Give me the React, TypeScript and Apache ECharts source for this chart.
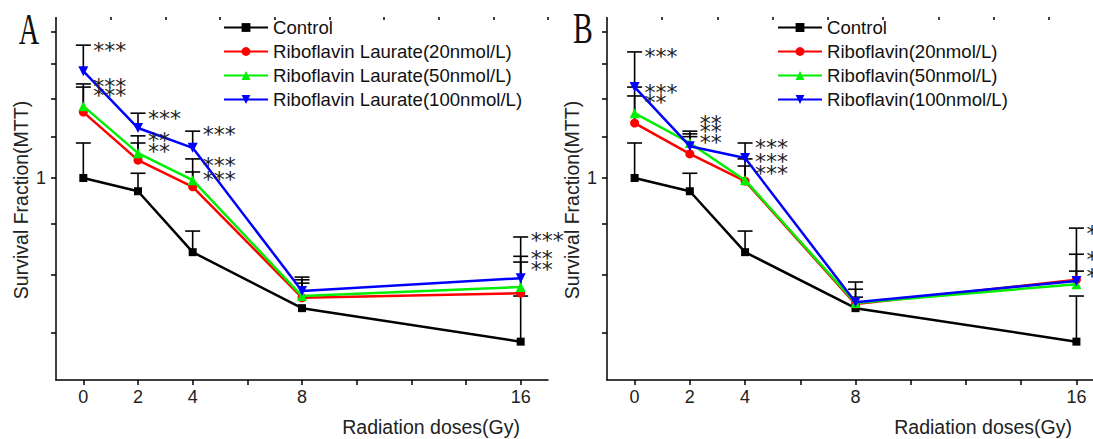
import React, { useEffect, useRef } from "react";
import * as echarts from "echarts";

// ---------- data ----------
const doses = [0, 2, 4, 8, 16];
const xLabelValues = [0, 2, 4, 8, 16];
const xMajorTicks = [0, 2, 4, 6, 8, 10, 12, 14, 16];
const xMinorTicks = [-1, 1, 3, 5, 7, 9, 11, 13, 15, 17];
const yTickValues = [0.7, 0.8, 0.9, 1.0, 1.1, 1.2, 1.3, 1.4];
const yLabelValues = [1];

const namesA = ["Control", "Riboflavin Laurate(20nmol/L)", "Riboflavin Laurate(50nmol/L)", "Riboflavin Laurate(100nmol/L)"];
const namesB = ["Control", "Riboflavin(20nmol/L)", "Riboflavin(50nmol/L)", "Riboflavin(100nmol/L)"];

// Panel A: means and upper error limits (null = no visible bar)
const controlA = [1.0, 0.97, 0.843, 0.741, 0.686];
const rl20A = [1.164, 1.042, 0.98, 0.759, 0.767];
const rl50A = [1.18, 1.059, 0.995, 0.762, 0.778];
const rl100A = [1.279, 1.122, 1.072, 0.771, 0.794];
const controlTopA = [1.084, 1.011, 0.885, null, 0.762];
const rl20TopA = [1.233, 1.084, 1.014, 0.785, 0.824];
const rl50TopA = [1.242, 1.102, 1.045, 0.791, 0.835];
const rl100TopA = [1.358, 1.161, 1.114, 0.796, 0.873];

// Panel B
const controlB = [1.0, 0.97, 0.843, 0.741, 0.686];
const r20B = [1.135, 1.057, 0.993, 0.748, 0.791];
const r50B = [1.161, 1.084, 0.995, 0.75, 0.783];
const r100B = [1.233, 1.076, 1.047, 0.751, 0.789];
const controlTopB = [1.084, 1.011, 0.885, null, 0.762];
const r20TopB = [1.208, 1.1, 1.028, 0.76, 0.807];
const r50TopB = [1.233, 1.107, 1.045, 0.774, 0.839];
const r100TopB = [1.337, 1.114, 1.084, 0.787, 0.891];

// significance marks
const starXA = [0, 0, 0, 2, 2, 2, 4, 4, 4, 16, 16, 16];
const starYA = [1.358, 1.25, 1.222, 1.161, 1.104, 1.076, 1.117, 1.042, 1.009, 0.875, 0.841, 0.82];
const starTextA = ["***", "***", "***", "***", "**", "**", "***", "***", "***", "***", "**", "**"];
const starXB = [0, 0, 0, 2, 2, 2, 4, 4, 4, 16, 16, 16];
const starYB = [1.337, 1.233, 1.205, 1.148, 1.125, 1.099, 1.084, 1.05, 1.023, 0.891, 0.839, 0.807];
const starTextB = ["***", "***", "**", "**", "**", "**", "***", "***", "***", "*", "*", "*"];

const colors = ["#000000", "#ff0000", "#00ee00", "#0000ff"];
const symbols = ["rect", "circle", "triangle", "triangle"];
const symbolSizes = [8, 9, 10, 10];
const symbolRotates = [0, 0, 0, 180];

const L = (v: number) => Math.log10(v);
const FONT = "Liberation Sans, Arial, sans-serif";

function buildPanel(
  idx: number,
  names: string[],
  means: number[][],
  tops: (number | null)[][],
  starX: number[],
  starY: number[],
  starText: string[]
) {
  const xi = idx * 2;
  const series: any[] = [];
  const errData: number[][] = [];
  means.forEach((m, s) => {
    m.forEach((v, i) => {
      const t = tops[s][i];
      if (t != null) errData.push([doses[i], L(v), L(t)]);
    });
  });
  series.push({
    type: "custom",
    xAxisIndex: xi,
    yAxisIndex: idx,
    z: 1,
    silent: true,
    data: errData,
    renderItem: (_p: any, api: any) => {
      const p1 = api.coord([api.value(0), api.value(1)]);
      const p2 = api.coord([api.value(0), api.value(2)]);
      return {
        type: "group",
        children: [
          { type: "line", shape: { x1: p1[0], y1: p1[1], x2: p2[0], y2: p2[1] }, style: { stroke: "#000", lineWidth: 1.6 } },
          { type: "line", shape: { x1: p2[0] - 7.5, y1: p2[1], x2: p2[0] + 7.5, y2: p2[1] }, style: { stroke: "#000", lineWidth: 1.6 } },
        ],
      };
    },
  });
  means.forEach((m, s) => {
    series.push({
      type: "line",
      name: names[s],
      xAxisIndex: xi,
      yAxisIndex: idx,
      z: 3 + s,
      data: m.map((v, i) => [doses[i], L(v)]),
      symbol: symbols[s],
      symbolSize: symbolSizes[s],
      symbolRotate: symbolRotates[s],
      lineStyle: { color: colors[s], width: 2.5 },
      itemStyle: { color: colors[s] },
    });
  });
  series.push({
    type: "custom",
    xAxisIndex: xi,
    yAxisIndex: idx,
    z: 10,
    silent: true,
    data: starX.map((x, i) => [x, L(starY[i])]),
    renderItem: (p: any, api: any) => {
      const pt = api.coord([api.value(0), api.value(1)]);
      return {
        type: "text",
        x: pt[0] + 10,
        y: pt[1] + 5,
        style: {
          text: starText[p.dataIndex],
          fontSize: 22,
          fontFamily: "DejaVu Sans",
          fill: "#222",
          align: "left",
          verticalAlign: "middle",
        },
      };
    },
  });
  return series;
}

function xAxes(grid: number, max: number) {
  const base = {
    type: "value",
    gridIndex: grid,
    min: -1,
    max,
    splitLine: { show: false },
  };
  return [
    {
      ...base,
      axisLine: { show: true, onZero: false, lineStyle: { color: "#000", width: 1.5 } },
      axisTick: { show: true, customValues: xMajorTicks, length: 5, lineStyle: { color: "#000", width: 1.5 } },
      axisLabel: { customValues: xLabelValues, fontSize: 18, fontFamily: FONT, color: "#222", margin: 8 },
    },
    {
      ...base,
      axisLine: { show: false, onZero: false },
      axisTick: { show: true, customValues: xMinorTicks.filter((v) => v <= max), length: 3, lineStyle: { color: "#000", width: 1.5 } },
      axisLabel: { show: false },
    },
  ];
}

function yAxis(grid: number) {
  return {
    type: "value",
    gridIndex: grid,
    min: L(0.628),
    max: L(1.439),
    splitLine: { show: false },
    axisLine: { show: true, onZero: false, lineStyle: { color: "#000", width: 1.5 } },
    axisTick: { show: true, customValues: yTickValues.map(L), length: 5, lineStyle: { color: "#000", width: 1.5 } },
    axisLabel: {
      customValues: yLabelValues.map(L),
      formatter: (v: number) => String(Math.round(Math.pow(10, v) * 10) / 10),
      fontSize: 18,
      fontFamily: FONT,
      color: "#222",
      margin: 10,
    },
    name: "Survival Fraction(MTT)",
    nameLocation: "middle",
    nameGap: 25,
    nameTextStyle: { fontSize: 19.5, fontFamily: FONT, color: "#222" },
  };
}

function legend(left: number, data: string[]) {
  return {
    left,
    top: 13,
    orient: "vertical",
    itemWidth: 44,
    itemHeight: 11,
    itemGap: 5,
    selectedMode: false,
    textStyle: { fontSize: 18.6, fontFamily: FONT, color: "#111", lineHeight: 18.5 },
    data,
  };
}

export default function App() {
  const ref = useRef<HTMLDivElement>(null);
  useEffect(() => {
    if (!ref.current) return;
    const chart = echarts.init(ref.current, undefined, { renderer: "svg" });
    const option: any = {
      animation: false,
      backgroundColor: "#fff",
      grid: [
        { left: 56, top: 20, width: 492, height: 360 },
        { left: 607, top: 20, width: 486, height: 360 },
      ],
      xAxis: [...xAxes(0, 17), ...xAxes(1, 16.6)],
      yAxis: [yAxis(0), yAxis(1)],
      legend: [legend(218, namesA), legend(772, namesB)],
      graphic: [
        { type: "text", x: 29, y: 28, scaleX: 0.63, style: { text: "A", fontSize: 45, fontFamily: "Liberation Serif", fill: "#111", align: "center", verticalAlign: "middle" } },
        { type: "text", x: 583, y: 28, scaleX: 0.66, style: { text: "B", fontSize: 45, fontFamily: "Liberation Serif", fill: "#111", align: "center", verticalAlign: "middle" } },
        { type: "text", x: 520, y: 427, style: { text: "Radiation doses(Gy)", fontSize: 19.5, fontFamily: FONT, fill: "#222", align: "right", verticalAlign: "middle" } },
        { type: "text", x: 1072, y: 427, style: { text: "Radiation doses(Gy)", fontSize: 19.5, fontFamily: FONT, fill: "#222", align: "right", verticalAlign: "middle" } },
      ],
      series: [
        ...buildPanel(0, namesA, [controlA, rl20A, rl50A, rl100A], [controlTopA, rl20TopA, rl50TopA, rl100TopA], starXA, starYA, starTextA),
        ...buildPanel(1, namesB, [controlB, r20B, r50B, r100B], [controlTopB, r20TopB, r50TopB, r100TopB], starXB, starYB, starTextB),
      ],
    };
    chart.setOption(option);
    return () => chart.dispose();
  }, []);
  return (
    <div
      ref={ref}
      style={{ position: "fixed", left: 0, top: 0, width: 1093, height: 439 }}
    />
  );
}
